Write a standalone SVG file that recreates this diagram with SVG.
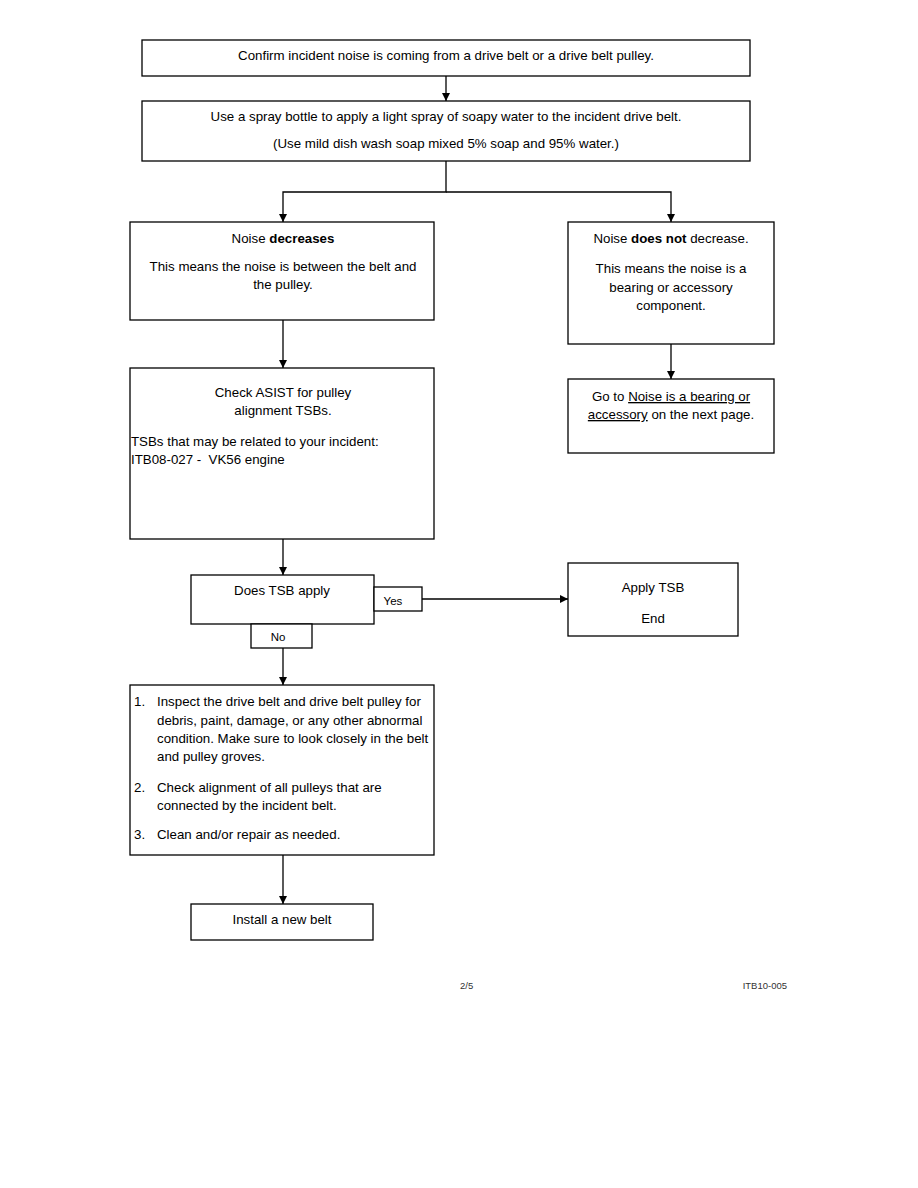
<svg xmlns="http://www.w3.org/2000/svg" width="918" height="1188" viewBox="0 0 918 1188">
<style>
rect{fill:#fff;stroke:#000;stroke-width:1.3}
text{font-family:"Liberation Sans",Arial,sans-serif;font-size:13.3px;fill:#000}
.c{text-anchor:middle}
.s{font-size:11.5px}
.f{font-size:9.5px;fill:#333}
.l{stroke:#000;stroke-width:1.3;fill:none}
</style>
<defs>
<marker id="a" viewBox="0 0 10 10" refX="10" refY="5" markerWidth="8" markerHeight="8" markerUnits="userSpaceOnUse" orient="auto">
<path d="M0,0L10,5L0,10z" fill="#000"/>
</marker>
</defs>
<rect width="918" height="1188" style="fill:#fff;stroke:none"/>
<g id="connectors">
<path class="l" d="M446,76V101" marker-end="url(#a)"/>
<path class="l" d="M446,161V192H283V222" marker-end="url(#a)"/>
<path class="l" d="M446,192H671V222" marker-end="url(#a)"/>
<path class="l" d="M283,320V368" marker-end="url(#a)"/>
<path class="l" d="M671,344V379" marker-end="url(#a)"/>
<path class="l" d="M283,539V575" marker-end="url(#a)"/>
<path class="l" d="M422,599H568" marker-end="url(#a)"/>
<path class="l" d="M283,648V685" marker-end="url(#a)"/>
<path class="l" d="M283,855V904" marker-end="url(#a)"/>
</g>
<g id="n1"><rect x="142" y="40" width="608" height="36"/>
<text class="c" x="446" y="60">Confirm incident noise is coming from a drive belt or a drive belt pulley.</text></g>
<g id="n2"><rect x="142" y="101" width="608" height="60"/>
<text class="c" x="446" y="121">Use a spray bottle to apply a light spray of soapy water to the incident drive belt.</text>
<text class="c" x="446" y="148">(Use mild dish wash soap mixed 5% soap and 95% water.)</text></g>
<g id="n3"><rect x="130" y="222" width="304" height="98"/>
<text class="c" x="283" y="243">Noise <tspan font-weight="bold">decreases</tspan></text>
<text class="c" x="283" y="271">This means the noise is between the belt and</text>
<text class="c" x="283" y="289">the pulley.</text></g>
<g id="n4"><rect x="568" y="222" width="206" height="122"/>
<text class="c" x="671" y="243">Noise <tspan font-weight="bold">does not</tspan> decrease.</text>
<text class="c" x="671" y="273">This means the noise is a</text>
<text class="c" x="671" y="292">bearing or accessory</text>
<text class="c" x="671" y="310">component.</text></g>
<g id="n5"><rect x="130" y="368" width="304" height="171"/>
<text class="c" x="283" y="397">Check ASIST for pulley</text>
<text class="c" x="283" y="415">alignment TSBs.</text>
<text x="131" y="446">TSBs that may be related to your incident:</text>
<text x="131" y="464" xml:space="preserve">ITB08-027 -  VK56 engine</text></g>
<g id="n6"><rect x="568" y="379" width="206" height="74"/>
<text class="c" x="671" y="401">Go to <tspan text-decoration="underline">Noise is a bearing or</tspan></text>
<text class="c" x="671" y="419"><tspan text-decoration="underline">accessory</tspan> on the next page.</text></g>
<g id="n7"><rect x="191" y="575" width="183" height="49"/>
<text class="c" x="282" y="595">Does TSB apply</text></g>
<g id="yes"><rect x="374" y="587" width="48" height="24"/>
<text class="c s" x="393" y="605">Yes</text></g>
<g id="no"><rect x="251" y="624" width="61" height="24"/>
<text class="c s" x="278" y="641">No</text></g>
<g id="n8"><rect x="568" y="563" width="170" height="73"/>
<text class="c" x="653" y="592">Apply TSB</text>
<text class="c" x="653" y="623">End</text></g>
<g id="n9"><rect x="130" y="685" width="304" height="170"/>
<text x="134" y="706">1.</text>
<text x="157" y="706">Inspect the drive belt and drive belt pulley for</text>
<text x="157" y="725">debris, paint, damage, or any other abnormal</text>
<text x="157" y="743">condition. Make sure to look closely in the belt</text>
<text x="157" y="761">and pulley groves.</text>
<text x="134" y="792">2.</text>
<text x="157" y="792">Check alignment of all pulleys that are</text>
<text x="157" y="810">connected by the incident belt.</text>
<text x="134" y="839">3.</text>
<text x="157" y="839">Clean and/or repair as needed.</text></g>
<g id="n10"><rect x="191" y="904" width="182" height="36"/>
<text class="c" x="282" y="924">Install a new belt</text></g>
<text class="f" x="460" y="989">2/5</text>
<text class="f" x="787" y="989" text-anchor="end">ITB10-005</text>
</svg>
